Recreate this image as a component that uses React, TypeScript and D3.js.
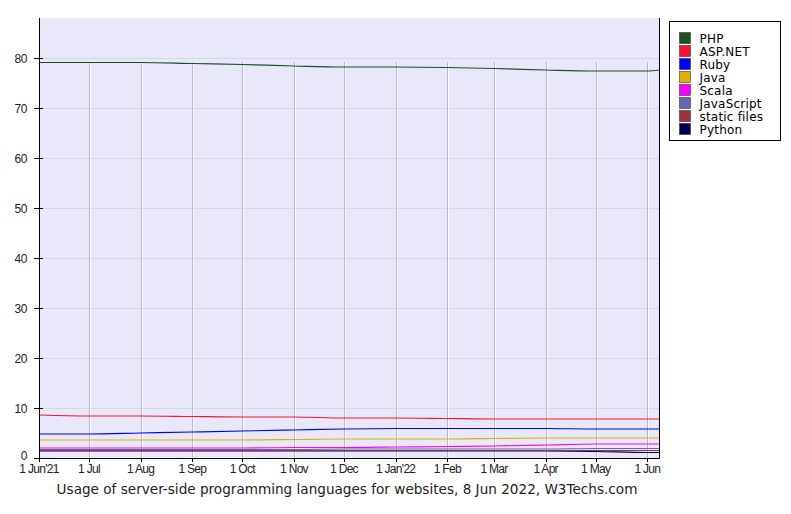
import { useEffect, useRef } from "react";
import * as d3 from "d3";

// sample dates: 1st of each month Jun 2021 .. Jun 2022, plus the 8 Jun 2022 snapshot
const dates = [
  "2021-06-01", "2021-07-01", "2021-08-01", "2021-09-01", "2021-10-01",
  "2021-11-01", "2021-12-01", "2022-01-01", "2022-02-01", "2022-03-01",
  "2022-04-01", "2022-05-01", "2022-06-01", "2022-06-08",
];

const tickLabels = [
  "1 Jun'21", "1 Jul", "1 Aug", "1 Sep", "1 Oct", "1 Nov", "1 Dec",
  "1 Jan'22", "1 Feb", "1 Mar", "1 Apr", "1 May", "1 Jun",
];

const php = [79.1, 79.1, 79.1, 78.9, 78.7, 78.4, 78.2, 78.2, 78.1, 77.9, 77.6, 77.4, 77.4, 77.6];
const aspnet = [8.6, 8.4, 8.4, 8.3, 8.2, 8.2, 8.0, 8.0, 7.9, 7.8, 7.8, 7.8, 7.8, 7.8];
const ruby = [4.8, 4.8, 5.0, 5.2, 5.4, 5.6, 5.8, 5.9, 5.9, 5.9, 5.9, 5.8, 5.8, 5.8];
const java = [3.6, 3.6, 3.6, 3.6, 3.6, 3.7, 3.8, 3.8, 3.8, 3.9, 4.0, 4.0, 4.0, 4.0];
const scala = [2.0, 2.0, 2.0, 2.0, 2.0, 2.1, 2.1, 2.2, 2.3, 2.4, 2.6, 2.8, 2.8, 2.8];
const javascript = [1.7, 1.7, 1.7, 1.7, 1.7, 1.7, 1.8, 1.8, 1.8, 1.8, 1.8, 1.9, 1.9, 1.9];
const staticFiles = [1.5, 1.5, 1.5, 1.5, 1.5, 1.5, 1.5, 1.5, 1.5, 1.5, 1.5, 1.5, 1.5, 1.5];
const python = [1.4, 1.4, 1.4, 1.4, 1.4, 1.4, 1.4, 1.4, 1.4, 1.4, 1.4, 1.3, 1.1, 1.1];

const series = [
  { name: "PHP", color: "#1f4f24", values: php },
  { name: "ASP.NET", color: "#ff1030", values: aspnet },
  { name: "Ruby", color: "#0000ff", values: ruby },
  { name: "Java", color: "#e0b000", values: java },
  { name: "Scala", color: "#ff00ff", values: scala },
  { name: "JavaScript", color: "#6666aa", values: javascript },
  { name: "static files", color: "#993344", values: staticFiles },
  { name: "Python", color: "#000055", values: python },
];

const yTicks = [0, 10, 20, 30, 40, 50, 60, 70, 80];

const App = () => {
  const svgRef = useRef<SVGSVGElement | null>(null);
  const width = 791;
  const height = 514;

  useEffect(() => {
    if (!svgRef.current) return;
    const svg = d3.select(svgRef.current);
    svg.selectAll("*").remove();

    const margin = { top: 18, right: 132, bottom: 56, left: 39 };
    const parse = d3.utcParse("%Y-%m-%d");
    const xs = dates.map((d) => parse(d) as Date);

    const x = d3
      .scaleUtc()
      .domain([xs[0], xs[xs.length - 1]])
      .range([margin.left, width - margin.right]);

    const y = d3
      .scaleLinear()
      .domain([0, 88])
      .range([height - margin.bottom, margin.top]);

    const font = "'DejaVu Sans', Verdana, sans-serif";
    const tickFont = "'Liberation Sans', Arial, sans-serif";

    // plot background
    svg
      .append("rect")
      .attr("x", margin.left)
      .attr("y", margin.top)
      .attr("width", width - margin.right - margin.left)
      .attr("height", height - margin.bottom - margin.top)
      .attr("fill", "#e8e8fa");

    // horizontal grid
    svg
      .append("g")
      .selectAll("line")
      .data(yTicks.filter((t) => t > 0))
      .join("line")
      .attr("x1", margin.left)
      .attr("x2", width - margin.right)
      .attr("y1", (d) => Math.round(y(d)) + 0.5)
      .attr("y2", (d) => Math.round(y(d)) + 0.5)
      .attr("stroke", "#d6d6ea");

    // vertical grid (month starts)
    const monthTicks = xs.slice(1, 13);
    const vg = svg.append("g");
    vg.selectAll("line.g")
      .data(monthTicks)
      .join("line")
      .attr("class", "g")
      .attr("x1", (d) => Math.round(x(d)) + 0.5)
      .attr("x2", (d) => Math.round(x(d)) + 0.5)
      .attr("y1", y(80) + 4)
      .attr("y2", height - margin.bottom)
      .attr("stroke", "#b8b8c8");
    vg.selectAll("line.w")
      .data(monthTicks)
      .join("line")
      .attr("class", "w")
      .attr("x1", (d) => Math.round(x(d)) + 1.5)
      .attr("x2", (d) => Math.round(x(d)) + 1.5)
      .attr("y1", y(80) + 4)
      .attr("y2", height - margin.bottom)
      .attr("stroke", "#ffffff")
      .attr("stroke-opacity", 0.8);

    // series lines
    const line = d3
      .line<number>()
      .x((_, i) => x(xs[i]))
      .y((d) => y(d))
      .curve(d3.curveMonotoneX);

    svg
      .append("g")
      .selectAll("path")
      .data([...series].reverse())
      .join("path")
      .attr("fill", "none")
      .attr("stroke", (d) => d.color)
      .attr("stroke-width", 1.2)
      .attr("d", (d) => line(d.values));

    // frame: left, bottom, right
    const x0 = margin.left + 0.5;
    const x1 = width - margin.right + 0.5;
    const yb = height - margin.bottom + 0.5;
    svg
      .append("path")
      .attr("d", `M${x0},${margin.top}V${yb}H${x1}V${margin.top}`)
      .attr("fill", "none")
      .attr("stroke", "#000");

    // y ticks
    const yg = svg.append("g");
    yg.selectAll("line")
      .data(yTicks)
      .join("line")
      .attr("x1", margin.left - 5)
      .attr("x2", margin.left + 4)
      .attr("y1", (d) => Math.round(y(d)) + 0.5)
      .attr("y2", (d) => Math.round(y(d)) + 0.5)
      .attr("stroke", "#000");
    yg.selectAll("text")
      .data(yTicks)
      .join("text")
      .attr("x", margin.left - 12)
      .attr("y", (d) => y(d) + (d === 0 ? 2 : 5))
      .attr("text-anchor", "end")
      .attr("font-family", tickFont)
      .attr("font-size", 12)
      .attr("letter-spacing", -0.4)
      .attr("fill", "#222")
      .text((d) => d);

    // x ticks
    const xTickDates = xs.slice(0, 13);
    const xg = svg.append("g");
    xg.selectAll("line")
      .data(xTickDates)
      .join("line")
      .attr("x1", (d) => Math.round(x(d)) + 0.5)
      .attr("x2", (d) => Math.round(x(d)) + 0.5)
      .attr("y1", height - margin.bottom)
      .attr("y2", height - margin.bottom + 4)
      .attr("stroke", "#000");
    xg.selectAll("text")
      .data(xTickDates)
      .join("text")
      .attr("x", (d) => x(d))
      .attr("y", height - margin.bottom + 15)
      .attr("text-anchor", "middle")
      .attr("font-family", tickFont)
      .attr("font-size", 12)
      .attr("letter-spacing", -0.7)
      .attr("fill", "#222")
      .text((_, i) => tickLabels[i]);

    // title
    svg
      .append("text")
      .attr("x", 347)
      .attr("y", 494)
      .attr("text-anchor", "middle")
      .attr("font-family", font)
      .attr("font-size", 13.6)
      .attr("fill", "#222")
      .text("Usage of server-side programming languages for websites, 8 Jun 2022, W3Techs.com");

    // legend
    const lg = svg.append("g").attr("transform", "translate(669.5,21.5)");
    lg.append("rect")
      .attr("width", 111)
      .attr("height", 119)
      .attr("fill", "#fff")
      .attr("stroke", "#000");
    const rows = lg
      .selectAll("g")
      .data(series)
      .join("g")
      .attr("transform", (_, i) => `translate(10,${11 + i * 13})`);
    rows
      .append("rect")
      .attr("width", 11)
      .attr("height", 11)
      .attr("fill", (d) => d.color)
      .attr("stroke", "#222")
      .attr("stroke-width", 0.5);
    rows
      .append("text")
      .attr("x", 20)
      .attr("y", 10)
      .attr("font-family", font)
      .attr("font-size", 12)
      .attr("letter-spacing", 0.2)
      .attr("fill", "#000")
      .text((d) => d.name);
  }, []);

  return (
    <div style={{ position: "absolute", left: 0, top: 0 }}>
      <svg ref={svgRef} width={width} height={height} style={{ display: "block", background: "#fff" }} />
    </div>
  );
};

export default App;
